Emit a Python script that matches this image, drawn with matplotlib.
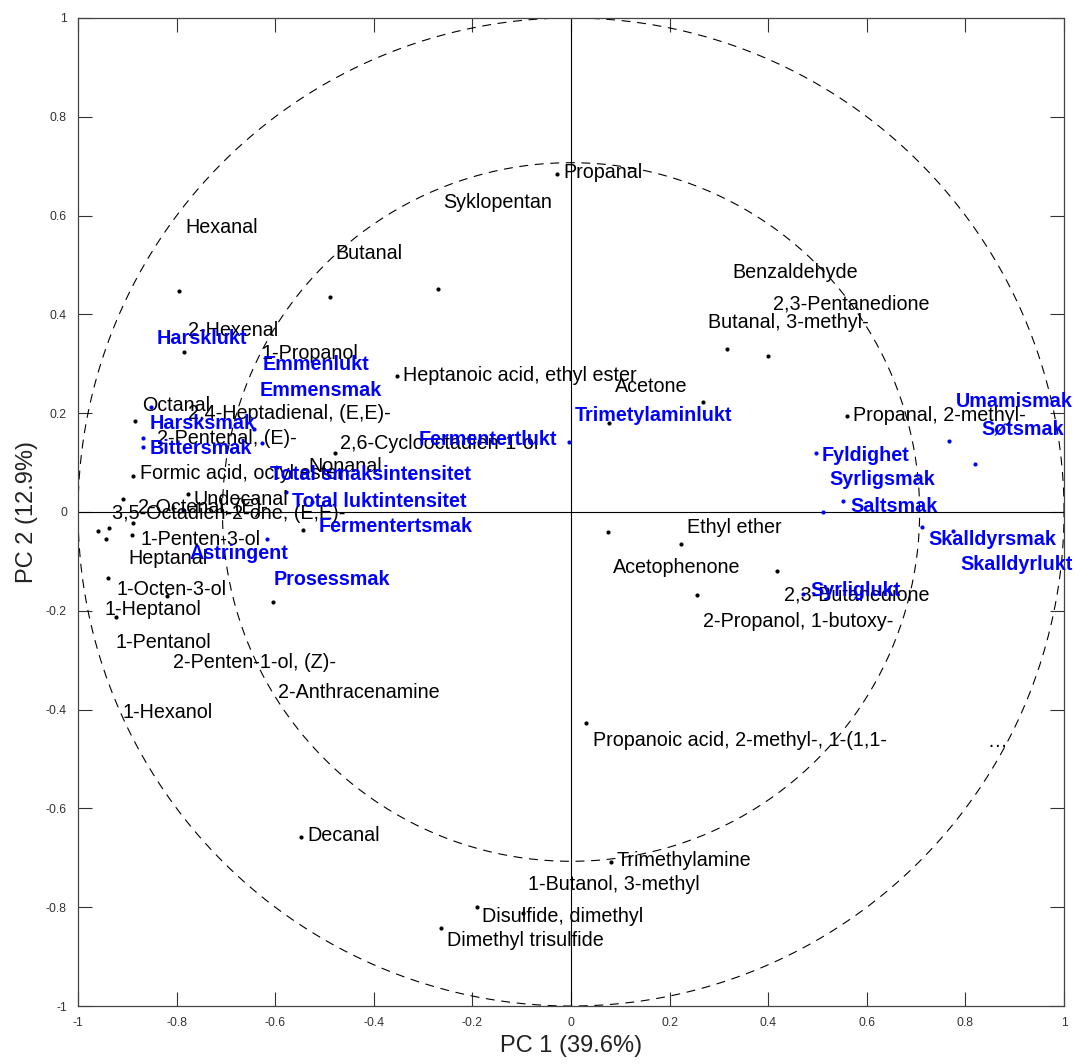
import numpy as np
import matplotlib
matplotlib.use("Agg")
import matplotlib.pyplot as plt

plt.rcParams['font.family'] = ['Liberation Sans', 'DejaVu Sans']

# loadings, volatile compounds (black dots)
vol_x = [-0.028, -0.795, -0.489, -0.269, 0.316, 0.399, -0.786, -0.354, 0.267, 0.077,
         0.559, -0.884, -0.479, -0.888, -0.908, -0.777, -0.888, -0.960, -0.937, -0.944,
         -0.891, -0.543, -0.939, -0.820, -0.922, -0.604, 0.074, 0.223, 0.418, 0.255,
         0.031, -0.548, 0.081, -0.191, -0.264, -0.098]
vol_y = [0.684, 0.448, 0.435, 0.452, 0.329, 0.316, 0.323, 0.276, 0.222, 0.180,
         0.195, 0.184, 0.119, 0.073, 0.026, 0.036, -0.022, -0.039, -0.033, -0.055,
         -0.047, -0.037, -0.134, -0.171, -0.212, -0.182, -0.041, -0.065, -0.119, -0.169,
         -0.427, -0.657, -0.709, -0.799, -0.842, -0.811]

# loadings, sensory attributes (blue dots)
sens_x = [-0.853, -0.868, -0.868, -0.644, -0.627, -0.788, -0.578, -0.617, -0.526, -0.327,
          -0.005, 0.496, 0.552, 0.511, 0.711, 0.775, 0.767, 0.819, 0.470]
sens_y = [0.213, 0.150, 0.132, 0.169, 0.139, 0.005, 0.040, -0.055, 0.020, 0.071,
          0.142, 0.119, 0.022, -0.001, -0.031, -0.038, 0.144, 0.097, -0.165]

# label names and where they sit
vol_names = ["Propanal", "Syklopentan", "Hexanal", "Butanal", "Benzaldehyde",
             "2,3-Pentanedione", "Butanal, 3-methyl-", "2-Hexenal", "1-Propanol",
             "Heptanoic acid, ethyl ester", "Acetone", "Octanal", "2,4-Heptadienal, (E,E)-",
             "Propanal, 2-methyl-", "2-Pentenal, (E)-", "2,6-Cyclooctadien-1-ol",
             "Formic acid, octyl ester", "Nonanal", "Undecanal", "2-Octenal, (E)-",
             "3,5-Octadien-2-one, (E,E)-", "1-Penten-3-ol", "Heptanal", "1-Octen-3-ol",
             "1-Heptanol", "1-Pentanol", "2-Penten-1-ol, (Z)-", "2-Anthracenamine",
             "1-Hexanol", "Ethyl ether", "Acetophenone", "2,3-Butanedione",
             "2-Propanol, 1-butoxy-", "Propanoic acid, 2-methyl-, 1-(1,1-", "\u2026",
             "Decanal", "Trimethylamine", "1-Butanol, 3-methyl", "Disulfide, dimethyl",
             "Dimethyl trisulfide"]
vol_lx = [-0.016, -0.259, -0.783, -0.479, 0.328, 0.410, 0.278, -0.776, -0.627, -0.341,
          0.089, -0.871, -0.776, 0.571, -0.840, -0.469, -0.874, -0.533, -0.766, -0.878,
          -0.932, -0.874, -0.897, -0.923, -0.947, -0.925, -0.807, -0.594, -0.909, 0.235,
          0.086, 0.431, 0.268, 0.044, 0.845, -0.535, 0.093, -0.087, -0.180, -0.252]
vol_ly = [0.687, 0.626, 0.576, 0.524, 0.484, 0.422, 0.383, 0.367, 0.321, 0.277,
          0.254, 0.215, 0.200, 0.195, 0.149, 0.138, 0.078, 0.092, 0.026, 0.010,
          -0.003, -0.055, -0.095, -0.156, -0.198, -0.265, -0.305, -0.366, -0.405, -0.031,
          -0.112, -0.168, -0.222, -0.462, -0.465, -0.655, -0.706, -0.755, -0.818, -0.868]

sens_names = ["Harsklukt", "Emmenlukt", "Emmensmak", "Harsksmak", "Bittersmak",
              "Trimetylaminlukt", "Fermentertlukt", "Total smaksintensitet",
              "Total luktintensitet", "Fermentertsmak", "Astringent", "Prosessmak",
              "Umamismak", "S\u00f8tsmak", "Fyldighet", "Syrligsmak", "Saltsmak",
              "Skalldyrsmak", "Skalldyrlukt", "Syrliglukt"]
sens_lx = [-0.840, -0.625, -0.631, -0.854, -0.854, 0.008, -0.310, -0.611, -0.567, -0.513,
           -0.773, -0.604, 0.780, 0.833, 0.509, 0.524, 0.566, 0.725, 0.789, 0.485]
sens_ly = [0.352, 0.299, 0.246, 0.180, 0.128, 0.196, 0.146, 0.075, 0.022, -0.030,
           -0.084, -0.136, 0.223, 0.169, 0.114, 0.065, 0.012, -0.055, -0.107, -0.159]

blue = "#0000ff"

fig = plt.figure(figsize=(10.75, 10.64), dpi=100)
ax = fig.add_axes([0.0726, 0.0545, 0.9172, 0.9286])

# correlation circles (100% and 50% explained variance)
t = np.linspace(0, 2 * np.pi, 400)
for r in [1.0, np.sqrt(0.5)]:
    ax.plot(r * np.cos(t), r * np.sin(t), color="black", lw=0.8,
            linestyle=(0, (8, 6)))
ax.axhline(0, color="black", lw=0.8)
ax.axvline(0, color="black", lw=0.8)

ax.plot(vol_x, vol_y, "o", color="black", ms=3.0, mew=0)
ax.plot(sens_x, sens_y, "o", color=blue, ms=3.0, mew=0)

for name, x, y in zip(vol_names, vol_lx, vol_ly):
    ax.text(x, y, name, fontsize=14.2, color="black", ha="left", va="center")
for name, x, y in zip(sens_names, sens_lx, sens_ly):
    ax.text(x, y, name, fontsize=14.2, color=blue, fontweight="bold",
            ha="left", va="center")

ax.set_xlim(-1, 1)
ax.set_ylim(-1, 1)
ticks = [-1, -0.8, -0.6, -0.4, -0.2, 0, 0.2, 0.4, 0.6, 0.8, 1]
tick_labels = ["-1", "-0.8", "-0.6", "-0.4", "-0.2", "0", "0.2", "0.4", "0.6", "0.8", "1"]
ax.set_xticks(ticks)
ax.set_yticks(ticks)
ax.set_xticklabels(tick_labels)
ax.set_yticklabels(tick_labels)
ax.tick_params(direction="in", length=10, width=0.8, top=True, right=True,
               labelsize=8.8, colors="#333333", labelcolor="#333333", pad=8)
for s in ax.spines.values():
    s.set_color("#444444")
    s.set_linewidth(0.9)

ax.set_xlabel("PC 1 (39.6%)", fontsize=17, color="#222222", labelpad=4)
ax.set_ylabel("PC 2 (12.9%)", fontsize=17, color="#222222", labelpad=6)

fig.savefig("out.png", dpi=100)
